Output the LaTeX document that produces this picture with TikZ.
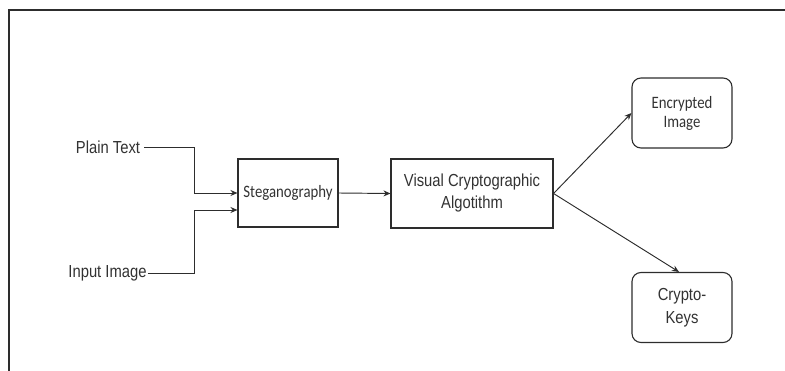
\documentclass[tikz,border=0pt]{standalone}
\usepackage{fontspec}
\setmainfont{Liberation Sans}
\newfontfamily\calfont{Carlito}
\usetikzlibrary{arrows.meta,positioning,calc}
\definecolor{inkcolor}{RGB}{45,45,45}
\definecolor{txtcolor}{RGB}{50,50,50}
% narrow, tall lettering
\newcommand{\sq}[1]{\scalebox{0.85}[1]{#1}}
\tikzset{
  flowtext/.style = {font=\fontsize{17.4}{22}\selectfont, text=txtcolor, align=center},
  label/.style    = {flowtext, inner sep=1pt},
  stepbox/.style  = {flowtext, draw=inkcolor, line width=1.1pt, inner sep=0pt},
  outbox/.style   = {stepbox, rounded corners=9pt, minimum width=100pt, minimum height=70pt},
  conn/.style     = {-{Stealth[length=7pt,width=6pt]}, line width=0.95pt, draw=inkcolor},
  frameline/.style = {line width=1.5pt, draw=inkcolor}
}

\begin{document}
\begin{tikzpicture}[x=1pt,y=-1pt]
\useasboundingbox (0,0) rectangle (785,371);

% --- page frame (top and left edge only) ---
\draw[frameline] (785,10) -- (9,10) -- (9,371);

% --- inputs ---
\node[label, inner xsep=4pt] (plain) at (108,147) {\sq{Plain Text}};
\node[label] (img) at (107.5,273) {\sq{Input Image}};
\coordinate (k1) at (194,193);
\coordinate (k2) at (194,210);

% --- processing boxes ---
\node[stepbox, minimum width=100pt, minimum height=68pt] (steg) at (288,193)
  {\calfont\sq{Steganography}};
\node[stepbox, minimum width=162pt, minimum height=69pt] (vca) at (472,193.5)
  {\sq{Visual Cryptographic}\\\sq{Algotithm}};

% --- outputs ---
\node[outbox, font=\calfont\fontsize{17.4}{19}\selectfont] (enc) at (682,113)
  {\sq{Encrypted}\\\sq{Image}};
\node[outbox, font=\fontsize{17.4}{23}\selectfont] (keys) at (682,307.5)
  {\sq{Crypto-}\\\sq{Keys}};

% --- connections ---
\draw[conn] (plain.east) -| (k1) -- (steg.west);
\draw[conn] (img.east) -| (k2) -- (k2 -| steg.west);
\draw[conn] (steg.east) -- (vca.west);
\draw[conn] (vca.east) -- (enc.west);
\draw[conn] (vca.east) -- ($(keys.north)+(-3,0)$);

\end{tikzpicture}
\end{document}
